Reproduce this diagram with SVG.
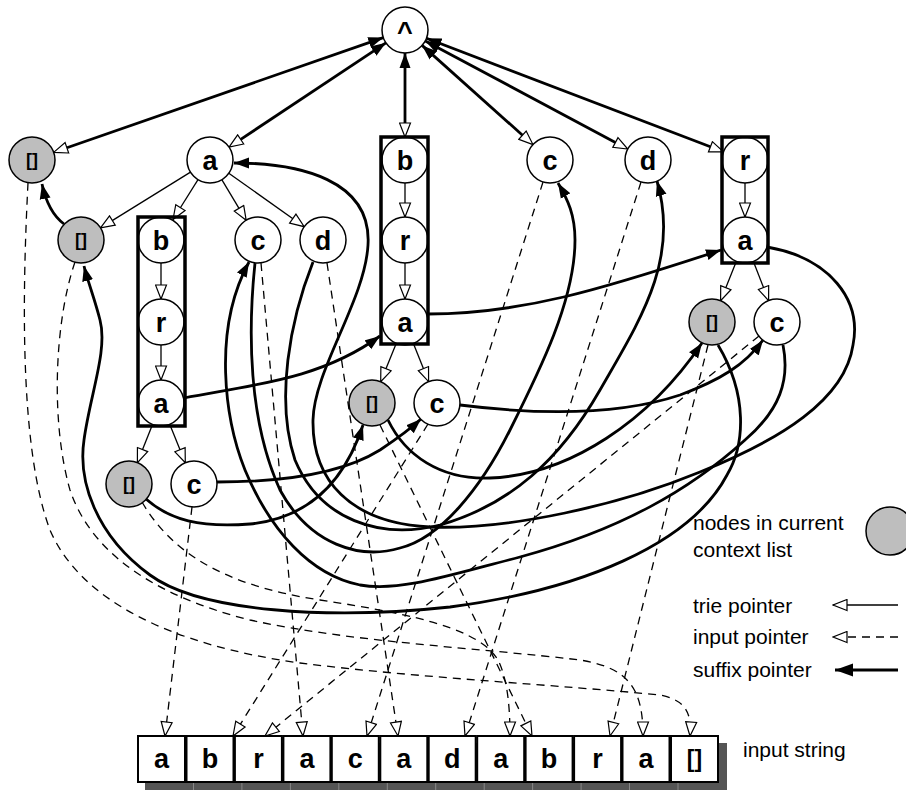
<svg xmlns="http://www.w3.org/2000/svg" width="906" height="790" viewBox="0 0 906 790">
<defs>
<style>
.n{fill:#fff;stroke:#000;stroke-width:1.5}
.g{fill:#bebebe;stroke:#000;stroke-width:1.5}
.l{font-family:"Liberation Sans",Arial,sans-serif;font-weight:bold;font-size:27px;text-anchor:middle}
.e{font-family:"Liberation Sans",Arial,sans-serif;font-weight:bold;font-size:18px;text-anchor:middle}
.t{fill:none;stroke:#000;stroke-width:1.3}
.s{fill:none;stroke:#000;stroke-width:2.8}
.d{fill:none;stroke:#000;stroke-width:1.3;stroke-dasharray:8 6}
.col{fill:none;stroke:#000;stroke-width:3.5}
.box{fill:#fff;stroke:#000;stroke-width:2}
.leg{font-family:"Liberation Sans",Arial,sans-serif;font-size:21px}
</style>
<marker id="openT" markerUnits="userSpaceOnUse" viewBox="0 0 17 13" markerWidth="17" markerHeight="13" refX="15.5" refY="6.5" orient="auto"><path d="M1.5,1 L15.5,6.5 L1.5,12 Z" fill="#fff" stroke="#000" stroke-width="1.2"/></marker>
<marker id="openB" markerUnits="userSpaceOnUse" viewBox="0 0 17 13" markerWidth="17" markerHeight="13" refX="1.5" refY="6.5" orient="auto"><path d="M1.5,1 L15.5,6.5 L1.5,12 Z" fill="#fff" stroke="#000" stroke-width="1.2"/></marker>
<marker id="fill" markerUnits="userSpaceOnUse" viewBox="0 0 16 12" markerWidth="16" markerHeight="12" refX="15" refY="6" orient="auto"><path d="M0,0.5 L15,6 L0,11.5 Z" fill="#000"/></marker>
<marker id="fillS" markerUnits="userSpaceOnUse" viewBox="0 0 16 12" markerWidth="16" markerHeight="12" refX="1" refY="6" orient="auto"><path d="M16,0.5 L1,6 L16,11.5 Z" fill="#000"/></marker>
<marker id="fillL" markerUnits="userSpaceOnUse" viewBox="0 0 19 14" markerWidth="19" markerHeight="14" refX="18" refY="7" orient="auto"><path d="M0,0.5 L18,7 L0,13.5 Z" fill="#000"/></marker>
</defs>

<g id="connectors">
<g id="trie-pointers" marker-end="url(#openT)">
<path class="t" d="M190.5,172.1 L100.5,227.9"/>
<path class="t" d="M198,179.6 L173,219.5"/>
<path class="t" d="M221.8,179.7 L246.2,220.3"/>
<path class="t" d="M228.8,173.3 L304.2,226.7"/>
<path class="t" d="M161,263 L161,299"/>
<path class="t" d="M161,345 L161,380"/>
<path class="t" d="M152.5,424.4 L137.4,462.6"/>
<path class="t" d="M169.7,424.3 L185.3,462.7"/>
<path class="t" d="M405,183 L405,217"/>
<path class="t" d="M405,263 L405,299"/>
<path class="t" d="M396.3,343.3 L380.7,381.7"/>
<path class="t" d="M413.4,343.4 L428.6,381.6"/>
<path class="t" d="M745,183 L745,217"/>
<path class="t" d="M736.4,261.3 L720.6,300.7"/>
<path class="t" d="M753.4,261.4 L768.6,300.6"/>
</g>
<g id="root-links" marker-start="url(#fillS)" marker-end="url(#openB)">
<path class="s" d="M383.3,37.6 L66.9,147.8"/>
<path class="s" d="M385.9,42.8 L240.7,139.4"/>
<path class="s" d="M405,53 L405,123"/>
<path class="s" d="M422.1,45.4 L522.5,135.2"/>
<path class="s" d="M425.3,40.9 L615.4,142.5"/>
<path class="s" d="M426.5,38.2 L710.4,146.8"/>
</g>
<g id="input-pointers" marker-end="url(#openT)">
<path class="d" d="M192,507 L165,736"/>
<path class="d" d="M428,424 L233,736"/>
<path class="d" d="M759,336 L265,736"/>
<path class="d" d="M261,263 L303,736"/>
<path class="d" d="M543,182 L367,736"/>
<path class="d" d="M327,263 L398,736"/>
<path class="d" d="M641,182 L465,736"/>
<path class="d" d="M142,502 C170,550 220,585 320,600 C420,615 480,630 498,660 C508,680 510,710 510,736"/>
<path class="d" d="M380,425 L532,736"/>
<path class="d" d="M708,345 L610,736"/>
<path class="d" d="M75,262 C55,320 50,420 70,490 C90,550 150,595 250,620 C350,642 480,648 580,660 C630,668 643,690 643,736"/>
<path class="d" d="M28,183 C22,300 20,450 50,530 C80,600 170,645 300,663 C420,678 560,685 660,695 C685,700 692,712 690,736"/>
</g>
<g id="suffix-pointers" marker-end="url(#fill)">
<path class="s" d="M64,224 Q48,212 42,184"/>
<path class="s" d="M184,398 C250,385 320,380 380,336"/>
<path class="s" d="M428,314 C520,314 600,290 721,250"/>
<path class="s" d="M767,247 C830,258 862,300 853,345 C845,400 780,440 700,472 C620,505 510,530 430,527 C350,523 312,480 313,420 C314,370 365,300 368,245 C372,180 300,163 234,163"/>
<path class="s" d="M718,345 C748,395 745,445 727,475 C690,545 580,590 450,607 C330,620 200,612 150,575 C95,535 78,480 84,440 C90,395 108,350 100,320 C95,300 88,282 84,266"/>
<path class="s" d="M388,420 C405,455 440,480 490,478 C570,475 650,420 702,343"/>
<path class="s" d="M146,499 C170,520 200,528 250,524 C310,518 345,480 363,425"/>
<path class="s" d="M217,482 C280,482 340,475 380,450 C395,440 407,432 421,419"/>
<path class="s" d="M460,405 C540,415 620,415 680,395 C720,380 745,365 763,340"/>
<path class="s" d="M783,345 C790,380 780,410 745,440 C690,490 620,530 520,557 C450,575 400,592 360,585 C310,575 270,530 245,470 C225,420 212,330 249,262"/>
<path class="s" d="M255,263 C248,330 248,420 280,490 C310,545 360,560 400,548 C440,538 480,490 510,430 C540,370 575,300 575,240 C575,215 568,200 558,183"/>
<path class="s" d="M313,262 C290,320 275,400 295,460 C320,520 380,540 440,525 C510,505 560,460 600,390 C640,320 680,260 657,181"/>
</g>
</g>

<g id="nodes">
<g id="root"><circle class="n" cx="405" cy="30" r="23"/><text class="l" x="405" y="41">^</text></g>
<g id="n-end"><circle class="g" cx="32" cy="160" r="23"/><text class="e" x="32" y="166">[]</text></g>
<g id="n-a"><circle class="n" cx="210" cy="160" r="23"/><text class="l" x="210" y="170">a</text></g>
<g id="n-b"><circle class="n" cx="405" cy="160" r="23"/><text class="l" x="405" y="170">b</text></g>
<g id="n-c"><circle class="n" cx="550" cy="160" r="23"/><text class="l" x="550" y="170">c</text></g>
<g id="n-d"><circle class="n" cx="648" cy="160" r="23"/><text class="l" x="648" y="170">d</text></g>
<g id="n-r"><circle class="n" cx="745" cy="160" r="23"/><text class="l" x="745" y="170">r</text></g>
<g id="n-a-end"><circle class="g" cx="81" cy="240" r="23"/><text class="e" x="81" y="246">[]</text></g>
<g id="n-ab"><circle class="n" cx="161" cy="240" r="23"/><text class="l" x="161" y="250">b</text></g>
<g id="n-ac"><circle class="n" cx="258" cy="240" r="23"/><text class="l" x="258" y="250">c</text></g>
<g id="n-ad"><circle class="n" cx="323" cy="240" r="23"/><text class="l" x="323" y="250">d</text></g>
<g id="n-br"><circle class="n" cx="405" cy="240" r="23"/><text class="l" x="405" y="250">r</text></g>
<g id="n-ra"><circle class="n" cx="745" cy="240" r="23"/><text class="l" x="745" y="250">a</text></g>
<g id="n-abr"><circle class="n" cx="161" cy="322" r="23"/><text class="l" x="161" y="332">r</text></g>
<g id="n-bra"><circle class="n" cx="405" cy="322" r="23"/><text class="l" x="405" y="332">a</text></g>
<g id="n-ra-end"><circle class="g" cx="712" cy="322" r="23"/><text class="e" x="712" y="328">[]</text></g>
<g id="n-rac"><circle class="n" cx="777" cy="322" r="23"/><text class="l" x="777" y="332">c</text></g>
<g id="n-abra"><circle class="n" cx="161" cy="403" r="23"/><text class="l" x="161" y="413">a</text></g>
<g id="n-bra-end"><circle class="g" cx="372" cy="403" r="23"/><text class="e" x="372" y="409">[]</text></g>
<g id="n-brac"><circle class="n" cx="437" cy="403" r="23"/><text class="l" x="437" y="413">c</text></g>
<g id="n-abra-end"><circle class="g" cx="129" cy="484" r="23"/><text class="e" x="129" y="490">[]</text></g>
<g id="n-abrac"><circle class="n" cx="194" cy="484" r="23"/><text class="l" x="194" y="494">c</text></g>
<g id="columns">
<rect class="col" x="138" y="217" width="47" height="209"/>
<rect class="col" x="381" y="137" width="47" height="207"/>
<rect class="col" x="722" y="137" width="46" height="126"/>
</g>
</g>

<g id="input-string">
<rect x="145" y="743" width="582" height="47" fill="#555"/>
<g stroke="#888" stroke-width="1">
<line x1="193.5" y1="783" x2="193.5" y2="790"/><line x1="241.9" y1="783" x2="241.9" y2="790"/><line x1="290.4" y1="783" x2="290.4" y2="790"/><line x1="338.8" y1="783" x2="338.8" y2="790"/><line x1="387.3" y1="783" x2="387.3" y2="790"/><line x1="435.7" y1="783" x2="435.7" y2="790"/><line x1="484.2" y1="783" x2="484.2" y2="790"/><line x1="532.6" y1="783" x2="532.6" y2="790"/><line x1="581.1" y1="783" x2="581.1" y2="790"/><line x1="629.5" y1="783" x2="629.5" y2="790"/><line x1="678" y1="783" x2="678" y2="790"/>
</g>
<rect class="box" x="138" y="736" width="47" height="46"/>
<rect class="box" x="186.5" y="736" width="47" height="46"/>
<rect class="box" x="234.9" y="736" width="47" height="46"/>
<rect class="box" x="283.4" y="736" width="47" height="46"/>
<rect class="box" x="331.8" y="736" width="47" height="46"/>
<rect class="box" x="380.3" y="736" width="47" height="46"/>
<rect class="box" x="428.7" y="736" width="47" height="46"/>
<rect class="box" x="477.2" y="736" width="47" height="46"/>
<rect class="box" x="525.6" y="736" width="47" height="46"/>
<rect class="box" x="574.1" y="736" width="47" height="46"/>
<rect class="box" x="622.5" y="736" width="47" height="46"/>
<rect class="box" x="671" y="736" width="47" height="46"/>
<text class="l" x="161.5" y="768">a</text>
<text class="l" x="210" y="768">b</text>
<text class="l" x="258.4" y="768">r</text>
<text class="l" x="306.9" y="768">a</text>
<text class="l" x="355.3" y="768">c</text>
<text class="l" x="403.8" y="768">a</text>
<text class="l" x="452.2" y="768">d</text>
<text class="l" x="500.7" y="768">a</text>
<text class="l" x="549.1" y="768">b</text>
<text class="l" x="597.6" y="768">r</text>
<text class="l" x="646" y="768">a</text>
<text class="l" x="694.5" y="767" style="font-size:23px">[]</text>
</g>

<g id="legend">
<text class="leg" x="693" y="530">nodes in current</text>
<text class="leg" x="693" y="557">context list</text>
<circle class="g" cx="890" cy="531" r="24"/>
<text class="leg" x="693" y="613">trie pointer</text>
<text class="leg" x="693" y="644">input pointer</text>
<text class="leg" x="693" y="677">suffix pointer</text>
<path class="t" d="M898,605 L833,605" marker-end="url(#openT)"/>
<path class="d" d="M898,637 L833,637" marker-end="url(#openT)"/>
<path class="s" d="M898,670 L835,670" marker-end="url(#fillL)"/>
<text class="leg" x="743" y="757">input string</text>
</g>
</svg>
